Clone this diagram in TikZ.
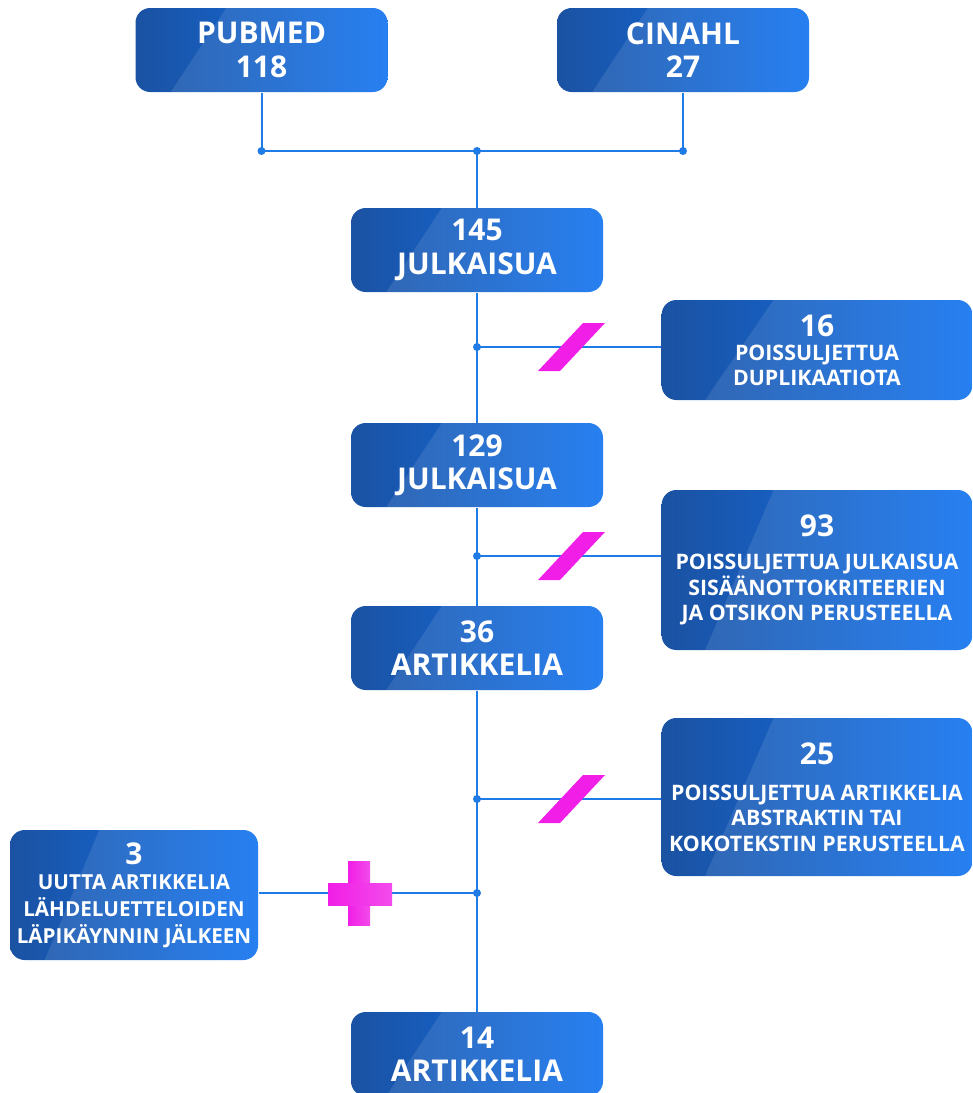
\documentclass[tikz,border=0pt]{standalone}
\usepackage{fontspec}
\setmainfont{Open Sans}
\usetikzlibrary{calc}

\definecolor{boxdark}{HTML}{1B52A2}
\definecolor{boxlight}{HTML}{0F72F0}
\definecolor{flowline}{HTML}{1F7BE6}
\definecolor{exclcol}{HTML}{F01EE6}

\newcommand{\numfont}{\fontsize{22.5}{25}\selectfont}
\newcommand{\notefont}{\fontsize{16}{19}\selectfont}

\tikzset{every picture/.style={line width=0.75pt}}
\tikzset{
	stagebox/.style={rounded corners=11pt, left color=boxdark, right color=boxlight, text=white, align=center, inner sep=0pt,
		path picture={\fill[white, opacity=0.1, sharp corners] ($(path picture bounding box.north west)!0.36!(path picture bounding box.north east)$) -- (path picture bounding box.north east) -- (path picture bounding box.south east) -- ($(path picture bounding box.south west)!0.14!(path picture bounding box.south east)$) -- cycle;}},
	mainbox/.style={stagebox, minimum width=189pt, minimum height=63pt, font=\bfseries\numfont},
	sidebox/.style={stagebox, minimum width=233pt, font=\bfseries\notefont},
	flow/.style={draw=flowline, line width=1.5pt},
	jdot/.style={circle, fill=flowline, inner sep=0pt, minimum size=6pt},
	excl/.style={fill=exclcol},
	incl/.style={left color=exclcol, right color=exclcol!80!white}
}

\begin{document}
\begin{tikzpicture}[x=0.75pt,y=0.75pt,yscale=-1,xscale=1]
	\clip (0,0) rectangle (973,1093);

	% Databases
	\node [mainbox] (pubmed) at (261.5,50) {PUBMED\\118};
	\node [mainbox] (cinahl) at (683,50) {CINAHL\\27};

	% Junctions
	\coordinate (jdb) at (477,151);
	\coordinate (jdup) at (477,347);
	\coordinate (jcrit) at (477,556);
	\coordinate (jabs) at (477,799);
	\coordinate (jref) at (477,893);

	% Stages
	\node [mainbox] (pub145) at (477,250) {145\\JULKAISUA};
	\node [mainbox] (pub129) at (477,465) {129\\JULKAISUA};
	\node [mainbox] (art36) at (477,648) {36\\ARTIKKELIA};
	\node [mainbox] (art14) at (477,1054) {14\\ARTIKKELIA};

	% Exclusions
	\node [sidebox, minimum height=75pt] (dup) at (817,350) {{\numfont 16}\\[-1pt]POISSULJETTUA\\DUPLIKAATIOTA};
	\node [sidebox, minimum height=120pt] (crit) at (817,570) {{\numfont 93}\\[6pt]POISSULJETTUA JULKAISUA\\SIS\"A\"ANOTTOKRITEERIEN\\JA OTSIKON PERUSTEELLA};
	\node [sidebox, minimum height=118.5pt] (abs) at (817,797) {{\numfont 25}\\[8pt]POISSULJETTUA ARTIKKELIA\\ABSTRAKTIN TAI\\KOKOTEKSTIN PERUSTEELLA};

	% Inclusion
	\node [stagebox, minimum width=186pt, minimum height=97.5pt, font=\bfseries\fontsize{15.5}{20}\selectfont] (refs) at (134,895) {{\numfont 3}\\[-1pt]UUTTA ARTIKKELIA\\L\"AHDELUETTELOIDEN\\L\"APIK\"AYNNIN J\"ALKEEN};

	% Straight Lines
	\draw [flow] (pubmed.south) |- (jdb) -| (cinahl.south);
	\draw [flow] (jdb) -- (pub145.north);
	\draw [flow] (pub145.south) -- (pub129.north);
	\draw [flow] (pub129.south) -- (art36.north);
	\draw [flow] (art36.south) -- (art14.north);
	\draw [flow] (jdup) -- (jdup -| dup.west);
	\draw [flow] (jcrit) -- (jcrit -| crit.west);
	\draw [flow] (jabs) -- (jabs -| abs.west);
	\draw [flow] (refs.east |- jref) -- (jref);

	% Dots
	\node [jdot] at (pubmed.south |- jdb) {};
	\node [jdot] at (jdb) {};
	\node [jdot] at (cinahl.south |- jdb) {};
	\foreach \j in {jdup,jcrit,jabs,jref}
		\node [jdot] at (\j) {};

	% Shape: slashes
	\foreach \j in {jdup,jcrit,jabs}
		\fill [excl, shift={(\j)}] (61,24) -- (83,24) -- (128,-24) -- (106,-24) -- cycle;

	% Shape: plus
	\fill [incl, shift={(jref)}] (-129,-32) rectangle (-107,32);
	\fill [incl, shift={(jref)}] (-149,-10) rectangle (-85,12);

\end{tikzpicture}
\end{document}
